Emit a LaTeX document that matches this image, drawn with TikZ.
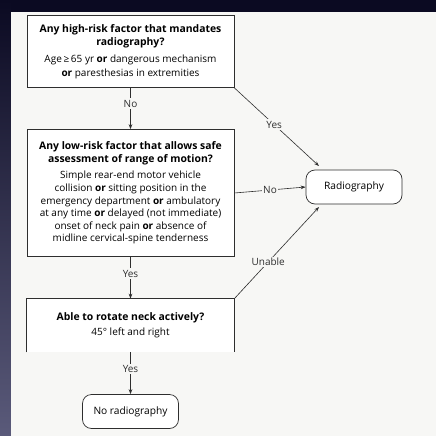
\documentclass[tikz,border=0pt]{standalone}
\usepackage{fontspec}
\setmainfont{Open Sans}
\usetikzlibrary{arrows.meta,calc}
\definecolor{panel}{HTML}{F7F7F5}
\definecolor{navy}{HTML}{0B0A22}
\definecolor{slate}{HTML}{5A5A7A}
\definecolor{ink}{HTML}{2E2E2E}
\newcommand{\ttl}[1]{{\fontsize{10.4}{13.4}\selectfont\bfseries #1}}
\tikzset{
  qbox/.style={draw=ink,line width=0.7pt,fill=white,minimum width=207pt,align=center,inner sep=0pt,font=\fontsize{10}{13.2}\selectfont},
  endbox/.style={draw=ink,line width=0.7pt,fill=white,rounded corners=9pt,minimum width=96pt,minimum height=34pt,inner sep=0pt,font=\fontsize{10.2}{11}\selectfont},
  conn/.style={draw=ink,line width=0.6pt},
  arr/.style={conn,-{Stealth[length=5pt,width=3.6pt]}},
  lab/.style={fill=panel,inner sep=1.6pt,text=ink,font=\fontsize{10}{10}\selectfont}
}
\begin{document}
\begin{tikzpicture}[x=1pt,y=-1pt]
\useasboundingbox (0,0) rectangle (436,436);
\fill[navy] (0,0) rectangle (436,436);
\shade[top color=navy,bottom color=slate] (0,0) rectangle (11,436);
\fill[panel] (11,12) rectangle (436,436);

\node[qbox,minimum height=72pt] (b1) at (130.5,51.5)
 {\ttl{Any high-risk factor that mandates}\\\ttl{radiography?}\\[4pt]
  Age\,≥\,65 yr \textbf{or} dangerous mechanism\\\textbf{or} paresthesias in extremities};

\node[qbox,minimum height=127pt,font=\fontsize{10}{12.6}\selectfont] (b2) at (130.5,193)
 {\ttl{Any low-risk factor that allows safe}\\\ttl{assessment of range of motion?}\\[4pt]
  Simple rear-end motor vehicle\\collision \textbf{or} sitting position in the\\emergency department \textbf{or} ambulatory\\at any time \textbf{or} delayed (not immediate)\\onset of neck pain \textbf{or} absence of\\midline cervical-spine tenderness};

\node[qbox,draw=none,minimum height=53pt] (b3) at (130.5,325.5)
 {\ttl{Able to rotate neck actively?}\\[2pt]45° left and right};
\draw[conn,line width=0.7pt] (b3.south west) -- (b3.north west) -- (b3.north east) -- (b3.south east);

\node[endbox] (rad) at (354,187) {Radiography};
\node[endbox] (norad) at (130.5,411.5) {No radiography};

\coordinate (yesend) at (319,166);
\coordinate (unend) at (319,207);

\draw[arr] (b1.south) -- node[lab,pos=0.38] {No} (b2.north);
\draw[arr] (b2.south) -- node[lab,pos=0.4] {Yes} (b3.north);
\draw[arr] (b3.south) -- node[lab,pos=0.4] {Yes} (norad.north);
\draw[arr] (b2.east) -- node[lab] {No} (rad.west);
\draw[arr] (b1.south east) -- node[lab,pos=0.47] {Yes} (yesend);
\draw[arr] (b3.north east) -- node[lab,pos=0.40] {Unable} (unend);
\end{tikzpicture}
\end{document}
